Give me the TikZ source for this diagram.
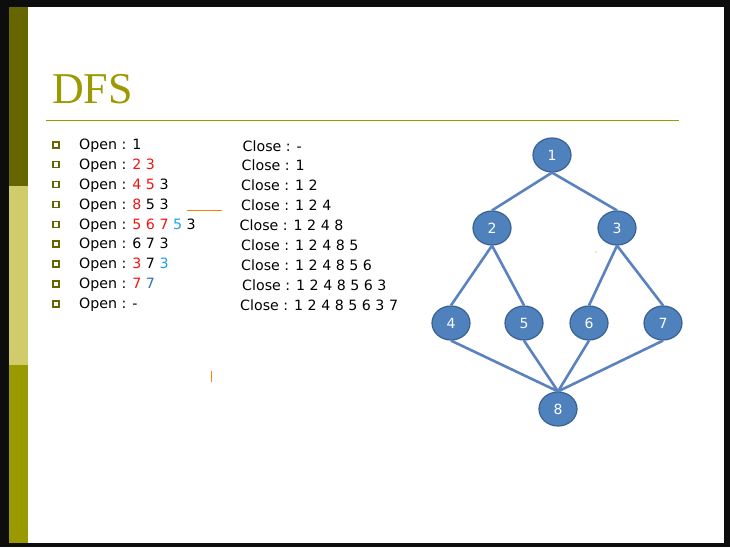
\documentclass[tikz,border=0pt]{standalone}
\usepackage{fontspec}
\setmainfont{DejaVu Sans}
\newfontfamily\titlefont{Liberation Serif}
\definecolor{olivedark}{HTML}{666600}
\definecolor{olivelight}{HTML}{D1CC6B}
\definecolor{olivemid}{HTML}{999900}
\definecolor{titleol}{HTML}{9C9A00}
\definecolor{nodefill}{HTML}{4F81BD}
\definecolor{nodeline}{HTML}{3A6193}
\definecolor{edgecol}{HTML}{5A82BE}
\definecolor{myred}{HTML}{F01414}
\definecolor{lblue}{HTML}{1AA3E6}
\definecolor{dblue}{HTML}{2F6FB5}
\definecolor{myorange}{HTML}{FF8000}
\usetikzlibrary{shapes.geometric}
\tikzset{
  gnode/.style={ellipse, draw=nodeline, line width=1.2pt, fill=nodefill, minimum width=38pt, minimum height=34pt, inner sep=0pt, text=white, font=\fontsize{14}{14}\selectfont},
  gedge/.style={draw=edgecol, line width=2.6pt},
  rowtext/.style={anchor=west, inner sep=0pt, font=\fontsize{14.2}{14.2}\selectfont},
  bul/.style={draw=olivedark, line width=1.3pt, fill=white, minimum size=6pt, inner sep=0pt}
}
\begin{document}
\begin{tikzpicture}[x=1pt,y=-1pt]
\useasboundingbox (0,0) rectangle (730,547);
\fill[black!95] (0,0) rectangle (730,547);
\fill[white] (28,7) rectangle (724,543);
\fill[olivedark] (9,7) rectangle (28,186);
\fill[olivelight] (9,186) rectangle (28,365);
\fill[olivemid] (9,365) rectangle (28,543);
\node[anchor=base west, inner sep=0pt, text=titleol, font=\titlefont\fontsize{44}{44}\selectfont] (title) at (52,103) {DFS};
\draw[titleol, line width=1pt] (46,120) -- (679,120);
% rows
\foreach \y [count=\i] in {145,164.5,184.5,204.5,224.5,244,264,284,304}{
  \node[bul] (b\i) at (56,\y) {};
}
\node[rowtext] (o1) at (79,146) {Open : 1};
\node[rowtext] (o2) at (79,165.5) {Open : \textcolor{myred}{2 3}};
\node[rowtext] (o3) at (79,185.5) {Open : \textcolor{myred}{4 5} 3};
\node[rowtext] (o4) at (79,205.5) {Open : \textcolor{myred}{8} 5 3};
\node[rowtext] (o5) at (79,225.5) {Open : \textcolor{myred}{5 6 7} \textcolor{lblue}{5} 3};
\node[rowtext] (o6) at (79,245) {Open : 6 7 3};
\node[rowtext] (o7) at (79,265) {Open : \textcolor{myred}{3} 7 \textcolor{lblue}{3}};
\node[rowtext] (o8) at (79,285) {Open : \textcolor{myred}{7} \textcolor{dblue}{7}};
\node[rowtext] (o9) at (79,305) {Open : -};
\node[rowtext] (c1) at (242.5,146) {Close : -};
\node[rowtext] (c2) at (241.5,165.5) {Close : 1};
\node[rowtext] (c3) at (241,185.5) {Close : 1 2};
\node[rowtext] (c4) at (241,205.5) {Close : 1 2 4};
\node[rowtext] (c5) at (239.5,225.5) {Close : 1 2 4 8};
\node[rowtext] (c6) at (241,245) {Close : 1 2 4 8 5};
\node[rowtext] (c7) at (241,265) {Close : 1 2 4 8 5 6};
\node[rowtext] (c8) at (242,285) {Close : 1 2 4 8 5 6 3};
\node[rowtext] (c9) at (240,305) {Close : 1 2 4 8 5 6 3 7};
% orange marks
\draw[myorange, line width=1pt] (187,210) -- (222,210);
\draw[myorange, line width=1pt] (211,371) -- (211,382);
\fill[myorange] (596,252) circle (0.6);
% graph
\node[gnode] (n1) at (552,155) {1};
\node[gnode] (n2) at (492,228) {2};
\node[gnode] (n3) at (617,228) {3};
\node[gnode] (n4) at (451,323) {4};
\node[gnode] (n5) at (524,323) {5};
\node[gnode] (n6) at (589,323) {6};
\node[gnode] (n7) at (663,323) {7};
\node[gnode] (n8) at (558,409) {8};
\path[gedge] (n1.south) -- (n2.north) (n1.south) -- (n3.north)
  (n2.south) -- (n4.north) (n2.south) -- (n5.north)
  (n3.south) -- (n6.north) (n3.south) -- (n7.north)
  (n4.south) -- (n8.north) (n5.south) -- (n8.north)
  (n6.south) -- (n8.north) (n7.south) -- (n8.north);
\end{tikzpicture}
\end{document}
